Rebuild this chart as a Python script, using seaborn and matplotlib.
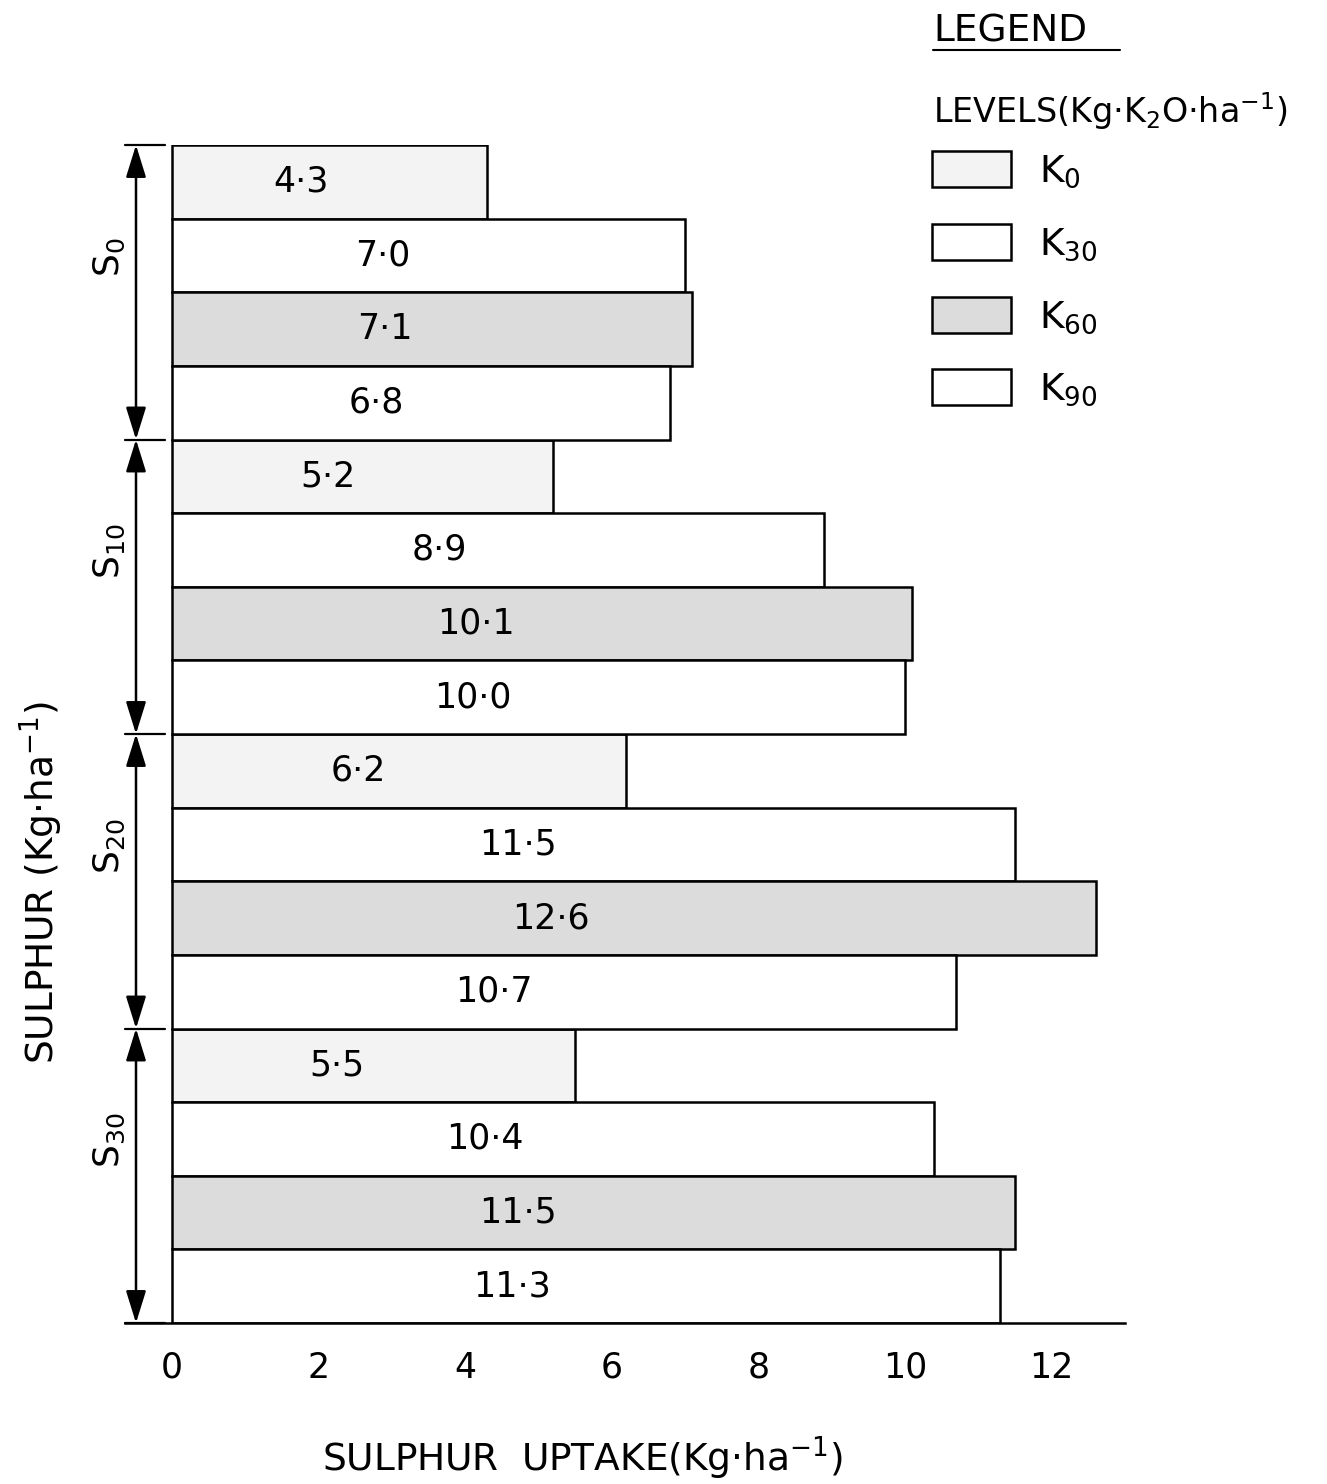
import pandas as pd
import seaborn as sns
import matplotlib.pyplot as plt
import matplotlib.transforms as mtransforms
from matplotlib.patches import Patch
from matplotlib.lines import Line2D

# values (Kg S per ha)
sulphur_keys = ["S0", "S10", "S20", "S30"]
sulphur_labels = ["S$_0$", "S$_{10}$", "S$_{20}$", "S$_{30}$"]
potash_keys = ["K0", "K30", "K60", "K90"]
potash_labels = ["K$_0$", "K$_{30}$", "K$_{60}$", "K$_{90}$"]
uptake_k0 = [4.3, 5.2, 6.2, 5.5]
uptake_k30 = [7.0, 8.9, 11.5, 10.4]
uptake_k60 = [7.1, 10.1, 12.6, 11.5]
uptake_k90 = [6.8, 10.0, 10.7, 11.3]
x_ticks = [0, 2, 4, 6, 8, 10, 12]

rows = []
for k, vals in zip(potash_keys, [uptake_k0, uptake_k30, uptake_k60, uptake_k90]):
    for s, v in zip(sulphur_keys, vals):
        rows.append({"sulphur": s, "potash": k, "uptake": v})
df = pd.DataFrame(rows)

sns.set_style("white")
plt.rcParams["font.family"] = ["DejaVu Sans"]
plt.rcParams["mathtext.default"] = "regular"
plt.rcParams["text.color"] = "black"
plt.rcParams["axes.labelcolor"] = "black"
plt.rcParams["xtick.color"] = "black"
plt.rcParams["ytick.color"] = "black"

fills = {"K0": "#f3f3f3", "K30": "#ffffff", "K60": "#dcdcdc", "K90": "#ffffff"}

fig = plt.figure(figsize=(13.27, 14.84), dpi=100)
ax = fig.add_axes([125 / 1327, 1 - 1323 / 1484, 1000 / 1327, 1178 / 1484])

sns.barplot(
    data=df, x="uptake", y="sulphur", hue="potash",
    order=sulphur_keys, hue_order=potash_keys,
    orient="h", width=1.0, gap=0, errorbar=None,
    palette=fills, edgecolor="black", linewidth=1.8,
    saturation=1, legend=False, ax=ax,
)

ax.set_xlim(-0.64, 13.0)
ax.set_ylim(3.5, -0.5)
ax.set_xticks(x_ticks)
ax.set_xticklabels([str(t) for t in x_ticks], fontsize=25)
ax.tick_params(axis="x", direction="in", length=8, width=2, pad=20)
ax.set_yticks([])
for side in ["top", "right", "left"]:
    ax.spines[side].set_visible(False)
ax.spines["bottom"].set_linewidth(1.8)
ax.spines["bottom"].set_color("black")

# value labels inside the bars
for container in ax.containers:
    for bar in container:
        w = bar.get_width()
        ax.text(w * 0.41, bar.get_y() + bar.get_height() / 2,
                f"{w:.1f}".replace(".", "·"),
                ha="center", va="center", fontsize=25)

# group brackets on the left
trans = mtransforms.blended_transform_factory(ax.transAxes, ax.transData)
bounds = [i - 0.5 for i in range(len(sulphur_keys) + 1)]
for b in bounds:
    ax.plot([0.0, 0.04], [b, b], color="black", lw=1.6,
            transform=trans, clip_on=False)
for i in range(len(sulphur_keys)):
    ax.annotate("", xy=(0.011, bounds[i]), xytext=(0.011, bounds[i + 1]),
                xycoords=trans, textcoords=trans,
                arrowprops=dict(arrowstyle="<|-|>,head_length=0.9,head_width=0.28",
                                mutation_scale=22, color="black", lw=1.8,
                                shrinkA=0, shrinkB=0))
    ax.text(-0.016, i - 0.12, sulphur_labels[i], transform=trans,
            rotation=90, ha="center", va="center", fontsize=26)

ax.set_xlabel("SULPHUR  UPTAKE(Kg·ha$^{-1}$)", fontsize=27)
ax.xaxis.set_label_coords(0.457, -0.094)
ax.set_ylabel("SULPHUR (Kg·ha$^{-1}$)", fontsize=27)
ax.yaxis.set_label_coords(-0.06, 0.374)

# legend block
fig.text(933 / 1327, 1 - 42 / 1484, "LEGEND", fontsize=27, ha="left", va="baseline")
fig.add_artist(Line2D([933 / 1327, 1120 / 1327], [1 - 50 / 1484, 1 - 50 / 1484],
                      color="black", lw=1.5))
fig.text(933 / 1327, 1 - 123 / 1484, "LEVELS(Kg·K$_2$O·ha$^{-1}$)",
         fontsize=24, ha="left", va="baseline")
handles = [Patch(facecolor=fills[k], edgecolor="black", linewidth=1.8) for k in potash_keys]
fig.legend(handles, potash_labels, loc="upper left",
           bbox_to_anchor=(932 / 1327, 1 - 151 / 1484), bbox_transform=fig.transFigure,
           frameon=False, fontsize=27, borderpad=0, borderaxespad=0,
           handlelength=2.1, handleheight=1.1, handletextpad=0.75, labelspacing=0.9)

fig.savefig("out.png", dpi=100)
